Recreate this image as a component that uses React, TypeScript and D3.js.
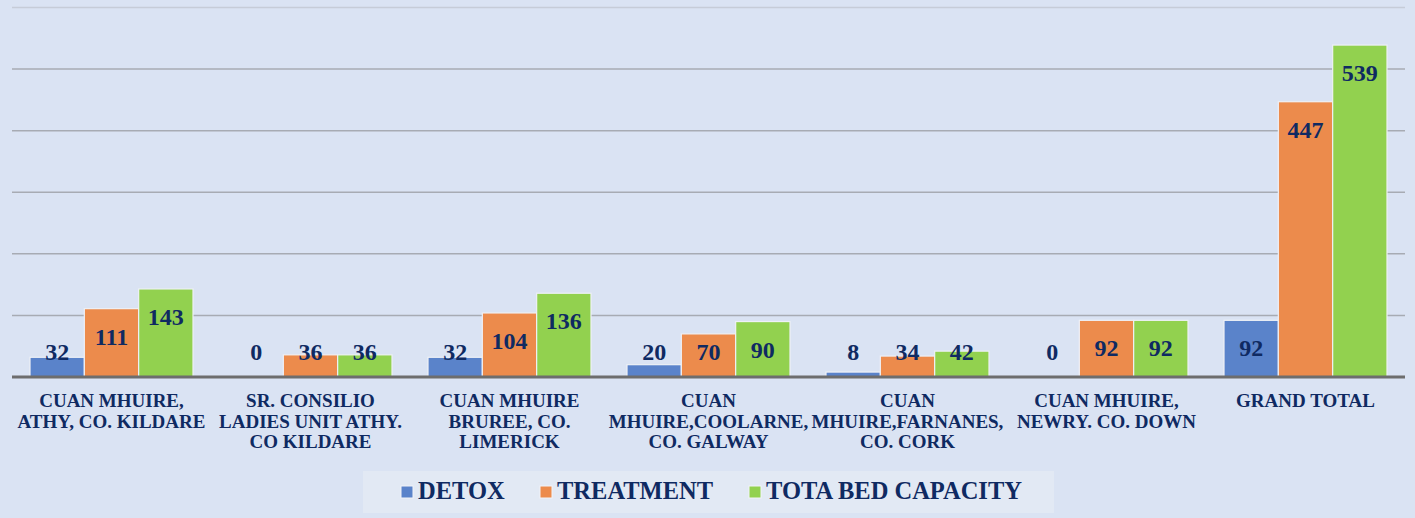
import React, { useEffect, useRef } from 'react';
import * as d3 from 'd3';

const categories = [
  ['CUAN MHUIRE,', 'ATHY, CO. KILDARE'],
  ['SR. CONSILIO', 'LADIES UNIT ATHY.', 'CO KILDARE'],
  ['CUAN MHUIRE', 'BRUREE, CO.', 'LIMERICK'],
  ['CUAN', 'MHUIRE,COOLARNE,', 'CO. GALWAY'],
  ['CUAN', 'MHUIRE,FARNANES,', 'CO. CORK'],
  ['CUAN MHUIRE,', 'NEWRY. CO. DOWN'],
  ['GRAND TOTAL'],
];
const detox = [32, 0, 32, 20, 8, 0, 92];
const treatment = [111, 36, 104, 70, 34, 92, 447];
const totalBeds = [143, 36, 136, 90, 42, 92, 539];
const seriesNames = ['DETOX', 'TREATMENT', 'TOTA BED CAPACITY'];
const yTicks = [0, 100, 200, 300, 400, 500, 600];

const colors = ['#5a83ca', '#ec8b4c', '#92d14f'];
const textColor = '#0f2a62';
const font = '"Liberation Serif", "Times New Roman", serif';

export default function App() {
  const svgRef = useRef<SVGSVGElement | null>(null);
  const width = 1415;
  const height = 518;

  useEffect(() => {
    const svg = d3.select(svgRef.current);
    svg.selectAll('*').remove();

    const marginLeft = 12;
    const plotRight = 1405;
    const baseY = 377;

    svg.append('rect').attr('width', width).attr('height', height).attr('fill', '#dae3f3');

    const x0 = d3.scaleBand<number>()
      .domain(d3.range(categories.length))
      .range([marginLeft, plotRight]);
    const bw = x0.bandwidth();
    const x1 = d3.scaleBand<number>()
      .domain([0, 1, 2])
      .range([18, bw - 18]);

    const y = d3.scaleLinear().domain([0, 600]).range([baseY, 7.5]);

    // gridlines
    svg.append('g')
      .selectAll('line')
      .data(yTicks.slice(1))
      .join('line')
      .attr('x1', marginLeft)
      .attr('x2', plotRight)
      .attr('y1', d => y(d))
      .attr('y2', d => y(d))
      .attr('stroke', d => (d === 600 ? '#c6ccd8' : '#a7abb3'))
      .attr('stroke-width', 1.5);

    const series = [detox, treatment, totalBeds];

    const groups = svg.append('g')
      .selectAll('g')
      .data(categories)
      .join('g')
      .attr('transform', (_, i) => `translate(${x0(i)},0)`);

    series.forEach((vals, s) => {
      groups.append('rect')
        .attr('x', x1(s)!)
        .attr('width', x1.bandwidth())
        .attr('y', (_, i) => y(vals[i]))
        .attr('height', (_, i) => baseY - y(vals[i]))
        .attr('fill', colors[s])
        .attr('stroke', (_, i) => (vals[i] > 0 ? '#eef1f6' : 'none'))
        .attr('stroke-width', 1.2);
    });

    series.forEach((vals, s) => {
      groups.append('text')
        .attr('x', x1(s)! + x1.bandwidth() / 2)
        .attr('y', (_, i) => Math.min(y(vals[i]) + 36, 360))
        .attr('text-anchor', 'middle')
        .attr('font-family', font)
        .attr('font-weight', 'bold')
        .attr('font-size', 24)
        .attr('fill', textColor)
        .text((_, i) => vals[i]);
    });

    // baseline axis
    svg.append('line')
      .attr('x1', marginLeft)
      .attr('x2', plotRight)
      .attr('y1', baseY)
      .attr('y2', baseY)
      .attr('stroke', '#6d6d6d')
      .attr('stroke-width', 3);

    // category labels
    groups.append('text')
      .attr('x', bw / 2)
      .attr('text-anchor', 'middle')
      .attr('font-family', font)
      .attr('font-weight', 'bold')
      .attr('font-size', 19)
      .attr('fill', textColor)
      .selectAll('tspan')
      .data(d => d)
      .join('tspan')
      .attr('x', bw / 2)
      .attr('y', (_, j) => 407 + j * 20.5)
      .text(d => d);

    // legend
    const legend = svg.append('g');
    legend.append('rect')
      .attr('x', 363)
      .attr('y', 471)
      .attr('width', 691)
      .attr('height', 42)
      .attr('fill', '#e2e9f4');
    const legendX = [401, 540, 749];
    seriesNames.forEach((name, s) => {
      legend.append('rect')
        .attr('x', legendX[s])
        .attr('y', 486)
        .attr('width', 12)
        .attr('height', 12)
        .attr('fill', colors[s])
        .attr('stroke', '#f2f4f8')
        .attr('stroke-width', 1);
      legend.append('text')
        .attr('x', legendX[s] + 17)
        .attr('y', 499)
        .attr('font-family', font)
        .attr('font-weight', 'bold')
        .attr('font-size', 24.5)
        .attr('fill', textColor)
        .text(name);
    });
  }, []);

  return (
    <svg
      ref={svgRef}
      width={width}
      height={height}
      style={{ position: 'absolute', left: 0, top: 0, display: 'block' }}
    />
  );
}
